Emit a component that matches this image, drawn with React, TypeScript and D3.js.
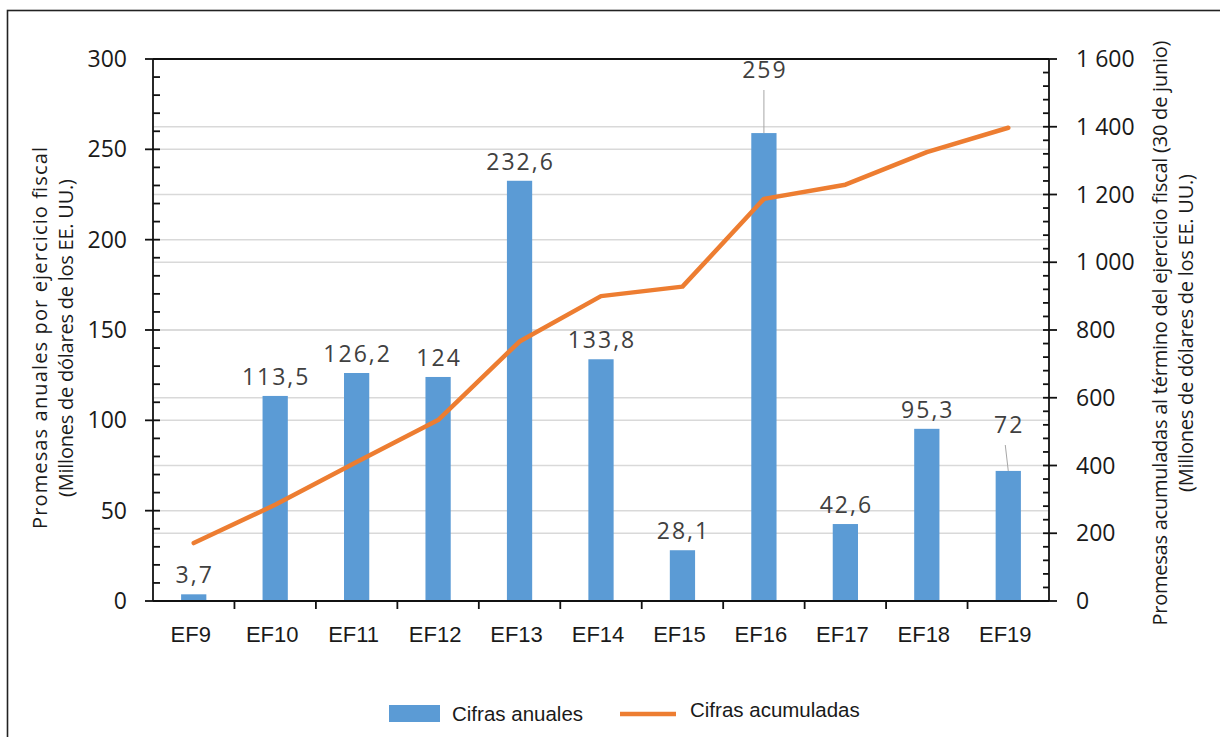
import * as d3 from 'd3';
import React, { useEffect, useRef } from 'react';

// fiscal years (EF = ejercicio fiscal)
const categories = ['EF9', 'EF10', 'EF11', 'EF12', 'EF13', 'EF14', 'EF15', 'EF16', 'EF17', 'EF18', 'EF19'];
// annual pledges, left axis (millions USD)
const annual = [3.7, 113.5, 126.2, 124, 232.6, 133.8, 28.1, 259, 42.6, 95.3, 72];
// cumulative pledges at June 30, right axis (millions USD)
const cumulative = [171, 284, 410, 534, 766, 900, 928, 1187, 1229, 1325, 1397];

const leftTicks = [0, 50, 100, 150, 200, 250, 300];
const rightTicks = [0, 200, 400, 600, 800, 1000, 1200, 1400, 1600];

const BLUE = '#5b9bd5';
const ORANGE = '#ed7d31';

const App: React.FC = () => {
    const svgRef = useRef<SVGSVGElement | null>(null);

    useEffect(() => {
        const W = 1220;
        const H = 737;
        const left = 153, right = 1049, top = 59, bottom = 601;

        d3.select(svgRef.current).selectAll('*').remove();
        const svg = d3.select(svgRef.current).attr('width', W).attr('height', H);

        const x = d3.scaleBand<string>()
            .domain(categories)
            .range([left, right])
            .paddingInner(0.69)
            .paddingOuter(0.345);
        const yL = d3.scaleLinear().domain([0, 300]).range([bottom, top]);
        const yR = d3.scaleLinear().domain([0, 1600]).range([bottom, top]);

        const fmtVal = (v: number) => String(v).replace('.', ',');
        const fmtThousands = (v: number) => d3.format(',')(v).replace(/,/g, ' ');

        // outer frame
        svg.append('rect')
            .attr('x', 7.5).attr('y', 10.5)
            .attr('width', 1240).attr('height', 760)
            .attr('fill', 'white').attr('stroke', '#222').attr('stroke-width', 1.6);

        // gridlines for both axes
        svg.append('g').selectAll('line')
            .data(leftTicks.filter(t => t > 0 && t < 300))
            .enter().append('line')
            .attr('x1', left).attr('x2', right)
            .attr('y1', d => yL(d)).attr('y2', d => yL(d))
            .attr('stroke', '#d9d9d9').attr('stroke-width', 1.5);
        svg.append('g').selectAll('line')
            .data(rightTicks.filter(t => t > 0 && t < 1600))
            .enter().append('line')
            .attr('x1', left).attr('x2', right)
            .attr('y1', d => yR(d)).attr('y2', d => yR(d))
            .attr('stroke', '#d9d9d9').attr('stroke-width', 1.5);

        // bars
        svg.append('g').selectAll('rect')
            .data(annual)
            .enter().append('rect')
            .attr('x', (_, i) => x(categories[i])!)
            .attr('y', d => yL(d))
            .attr('width', x.bandwidth())
            .attr('height', d => yL(0) - yL(d))
            .attr('fill', BLUE);

        // cumulative line
        const line = d3.line<number>()
            .x((_, i) => x(categories[i])! + x.bandwidth() / 2)
            .y(d => yR(d));
        svg.append('path')
            .datum(cumulative)
            .attr('d', line)
            .attr('fill', 'none')
            .attr('stroke', ORANGE)
            .attr('stroke-width', 4.5)
            .attr('stroke-linejoin', 'round')
            .attr('stroke-linecap', 'round');

        // data labels; two of them sit higher with a leader line
        const lifted: Record<string, number> = { EF16: 78, EF19: 433 };
        const labels = svg.append('g')
            .attr('font-family', '"Open Sans", sans-serif')
            .attr('font-size', 23)
            .attr('letter-spacing', 2)
            .attr('fill', '#404040')
            .attr('text-anchor', 'middle');
        categories.forEach((c, i) => {
            const cx = x(c)! + x.bandwidth() / 2;
            const barTop = yL(annual[i]);
            const baseY = lifted[c] ?? barTop - 11;
            labels.append('text').attr('x', cx + 1).attr('y', baseY).text(fmtVal(annual[i]));
            if (lifted[c] !== undefined) {
                const slant = c === 'EF19' ? -3 : 0;
                svg.append('line')
                    .attr('x1', cx + slant).attr('y1', baseY + 12)
                    .attr('x2', cx).attr('y2', barTop)
                    .attr('stroke', '#a6a6a6').attr('stroke-width', 1);
            }
        });

        // axes lines
        const axisG = svg.append('g').attr('stroke', '#111').attr('stroke-width', 1.8);
        axisG.append('line').attr('x1', left).attr('x2', right).attr('y1', top).attr('y2', top);
        axisG.append('line').attr('x1', left).attr('x2', right).attr('y1', bottom).attr('y2', bottom);
        axisG.append('line').attr('x1', left).attr('x2', left).attr('y1', top).attr('y2', bottom);
        axisG.append('line').attr('x1', right).attr('x2', right).attr('y1', top).attr('y2', bottom);

        // left ticks: major every 50, minor every 10
        d3.range(0, 301, 10).forEach(v => {
            const major = v % 50 === 0;
            axisG.append('line')
                .attr('x1', major ? left - 8 : left).attr('x2', left + 7)
                .attr('y1', yL(v)).attr('y2', yL(v));
        });
        // right ticks: major every 200, minor every 40
        d3.range(0, 1601, 40).forEach(v => {
            const major = v % 200 === 0;
            axisG.append('line')
                .attr('x1', right - 6).attr('x2', major ? right + 8 : right)
                .attr('y1', yR(v)).attr('y2', yR(v));
        });
        // category separators
        categories.slice(1).forEach(c => {
            const xx = x(c)! - (x.step() * x.paddingInner()) / 2;
            axisG.append('line').attr('x1', xx).attr('x2', xx).attr('y1', bottom).attr('y2', bottom + 8);
        });

        // tick labels
        const tl = svg.append('g')
            .attr('font-family', '"Open Sans", sans-serif')
            .attr('font-size', 23)
            .attr('fill', '#1a1a1a');
        leftTicks.forEach(v => {
            tl.append('text').attr('x', 127).attr('y', yL(v) + 8).attr('text-anchor', 'end').text(String(v));
        });
        rightTicks.forEach(v => {
            tl.append('text').attr('x', 1076).attr('y', yR(v) + 8).attr('text-anchor', 'start').text(fmtThousands(v));
        });

        // category labels
        const cl = svg.append('g')
            .attr('font-family', '"Liberation Sans", Arial, sans-serif')
            .attr('font-size', 22)
            .attr('fill', '#1a1a1a')
            .attr('text-anchor', 'middle');
        categories.forEach(c => {
            cl.append('text').attr('x', x(c)! + x.bandwidth() / 2 - 3).attr('y', 642).text(c);
        });

        // axis titles
        const title = (tx: number, ty: number, lines: [string, number][]) => {
            const g = svg.append('g')
                .attr('transform', `translate(${tx},${ty}) rotate(-90)`)
                .attr('font-family', '"Open Sans", sans-serif')
                .attr('font-size', 20)
                .attr('fill', '#1a1a1a')
                .attr('text-anchor', 'middle');
            lines.forEach(([t, len], i) => g.append('text')
                .attr('x', 0).attr('y', i * 26)
                .attr('textLength', len).attr('lengthAdjust', 'spacing')
                .text(t));
        };
        title(47, 338, [
            ['Promesas anuales por ejercicio fiscal', 382],
            ['(Millones de dólares de los EE. UU.)', 318],
        ]);
        title(1167, 333, [
            ['Promesas acumuladas al término del ejercicio fiscal (30 de junio)', 585],
            ['(Millones de dólares de los EE. UU.)', 318],
        ]);

        // legend
        const lg = svg.append('g')
            .attr('font-family', '"Liberation Sans", Arial, sans-serif')
            .attr('font-size', 20.5)
            .attr('fill', '#1a1a1a');
        lg.append('rect').attr('x', 389).attr('y', 705).attr('width', 51).attr('height', 17).attr('fill', BLUE);
        lg.append('text').attr('x', 452).attr('y', 721).text('Cifras anuales');
        lg.append('line').attr('x1', 620).attr('x2', 676).attr('y1', 714).attr('y2', 714)
            .attr('stroke', ORANGE).attr('stroke-width', 4.5);
        lg.append('text').attr('x', 690).attr('y', 717).text('Cifras acumuladas');
    }, []);

    return (
        <div style={{ position: 'absolute', left: 0, top: 0 }}>
            <svg ref={svgRef} style={{ display: 'block' }}></svg>
        </div>
    );
};

export default App;
